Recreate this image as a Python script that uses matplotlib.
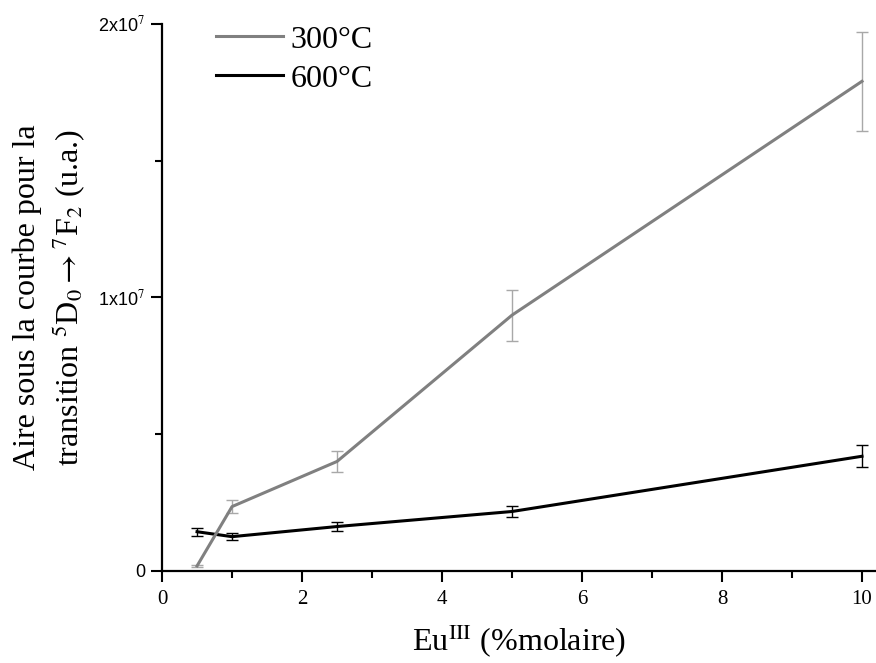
"""Aire sous la courbe 5D0->7F2 en fonction du taux d'europium (300 et 600 °C)."""
import matplotlib
matplotlib.use("Agg")
import matplotlib.pyplot as plt
from matplotlib.ticker import FixedLocator, MultipleLocator

plt.rcParams["mathtext.fontset"] = "stix"

eu_pct = [0.5, 1, 2.5, 5, 10]

aire_300 = [0.18e6, 2.35e6, 4.0e6, 9.35e6, 17.9e6]
err_300 = [0.05e6, 0.23e6, 0.4e6, 0.93e6, 1.8e6]

aire_600 = [1.43e6, 1.25e6, 1.62e6, 2.17e6, 4.19e6]
err_600 = [0.14e6, 0.12e6, 0.15e6, 0.2e6, 0.4e6]

yticks = [0, 1e7, 2e7]
ytick_labels = ["0", r"1x10$^{7}$", r"2x10$^{7}$"]

SERIF = "Liberation Serif"
SANS = "Liberation Sans"

fig = plt.figure(figsize=(8.76, 6.63), dpi=100)
ax = fig.add_axes([0.185, 0.139, 0.815, 0.825])

# 600 en premier pour que la courbe grise passe dessus au croisement
ax.errorbar(eu_pct, aire_600, yerr=err_600, color="black", lw=2.2,
            ecolor="black", elinewidth=1.0, capsize=4.3, capthick=1.0,
            clip_on=False, zorder=3)
ax.errorbar(eu_pct, aire_300, yerr=err_300, color="#808080", lw=2.2,
            ecolor="#a8a8a8", elinewidth=1.0, capsize=4.3, capthick=1.0,
            clip_on=False, zorder=4)
h300, = ax.plot([], [], color="#808080", lw=2.2)
h600, = ax.plot([], [], color="black", lw=2.2)

ax.set_xlim(0, 10.2)
ax.set_ylim(0, 2e7)

ax.xaxis.set_major_locator(MultipleLocator(2))
ax.xaxis.set_minor_locator(MultipleLocator(1))
ax.yaxis.set_major_locator(FixedLocator(yticks))
ax.yaxis.set_minor_locator(FixedLocator([0.5e7, 1.5e7]))
ax.set_yticklabels(ytick_labels)

for s in ("top", "right"):
    ax.spines[s].set_visible(False)
for s in ("left", "bottom"):
    ax.spines[s].set_linewidth(1.6)

ax.tick_params(which="major", direction="out", length=8, width=1.5)
ax.tick_params(which="minor", direction="out", length=5, width=1.5)
ax.tick_params(axis="x", pad=6)
ax.tick_params(axis="y", pad=4)
for t in ax.get_xticklabels():
    t.set_fontfamily(SERIF)
    t.set_fontsize(15)
for t in ax.get_yticklabels():
    t.set_fontfamily(SANS)
    t.set_fontsize(13)

ax.set_xlabel(r"Eu$^{\mathrm{III}}$ (%molaire)", fontfamily=SERIF,
              fontsize=23, labelpad=10)
ax.set_ylabel("Aire sous la courbe pour la\n"
              r"transition $^{5}$D$_{0}{\rightarrow}^{7}$F$_{2}$ (u.a.)",
              fontfamily=SERIF, fontsize=23, labelpad=8, linespacing=1.25)

ax.legend([h300, h600], ["300°C", "600°C"], loc="upper left",
          bbox_to_anchor=(0.035, 1.05), frameon=False,
          prop={"family": SERIF, "size": 23}, handlelength=2.1,
          handletextpad=0.25, labelspacing=0.3)

fig.savefig("out.png", dpi=100)
